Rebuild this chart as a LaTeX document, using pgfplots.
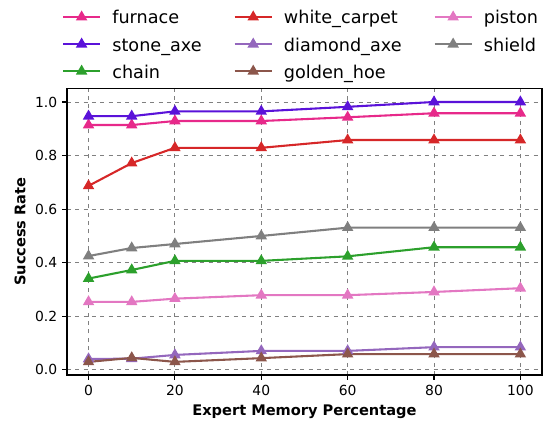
\documentclass[border=0pt]{standalone}
\usepackage{pgfplots}
\pgfplotsset{compat=1.18}
\usepackage{fontspec}
\setmainfont{DejaVu Sans}
\definecolor{cfurn}{HTML}{E7298A}
\definecolor{cstone}{HTML}{5A12D9}
\definecolor{cchain}{HTML}{2CA02C}
\definecolor{cwhite}{HTML}{D62728}
\definecolor{cdiam}{HTML}{9467BD}
\definecolor{cgold}{HTML}{8C564B}
\definecolor{cpist}{HTML}{E377C2}
\definecolor{cshield}{HTML}{7F7F7F}
\newcommand{\lf}{\fontsize{12.7}{12}\selectfont\rule[-4.6pt]{0pt}{16pt}}
\begin{document}
\begin{tikzpicture}
\begin{axis}[
  name=ax,
  scale only axis,
  width=342pt, height=206.6pt,
  xmin=-5, xmax=105, ymin=-0.019, ymax=1.052,
  xtick={0,20,40,60,80,100},
  ytick={0,0.2,0.4,0.6,0.8,1.0},
  yticklabel style={/pgf/number format/.cd,fixed,fixed zerofill,precision=1},
  /pgf/number format/assume math mode=true,
  ticklabel style={font=\fontsize{10}{12}\selectfont},
  tick align=outside,
  major tick length=3.5pt,
  xtick pos=bottom, ytick pos=left,
  tick style={black, line width=0.8pt},
  axis line style={line width=0.8pt},
  grid=major,
  grid style={dashed, gray, line width=0.7pt},
  xlabel={\fontsize{10.5}{12}\selectfont\textbf{Expert Memory Percentage}},
  ylabel={\fontsize{10.5}{12}\selectfont\textbf{Success Rate}},
  every axis plot/.append style={line width=1.5pt, mark=triangle*, mark size=3.3pt, mark options={solid}},
  legend columns=3,
  legend style={at={(0.4936,1.007)}, anchor=south, draw=none, fill=none,
    row sep=2.6pt,
    /tikz/every odd column/.append style={column sep=6pt},
    /tikz/every even column/.append style={column sep=21pt}},
  legend cell align=left,
  legend image code/.code={\draw[mark repeat=2,mark phase=2] plot coordinates {(0cm,0cm)(0.47cm,0cm)(0.94cm,0cm)};},
  legend transposed=true,
]
\addplot[cfurn] coordinates {(0,0.914)(10,0.914)(20,0.929)(40,0.929)(60,0.943)(80,0.958)(100,0.958)};
\addlegendentry{\lf furnace}
\addplot[cstone] coordinates {(0,0.947)(10,0.947)(20,0.965)(40,0.965)(60,0.982)(80,1.0)(100,1.0)};
\addlegendentry{\lf stone\_axe}
\addplot[cchain] coordinates {(0,0.341)(10,0.373)(20,0.407)(40,0.407)(60,0.424)(80,0.458)(100,0.458)};
\addlegendentry{\lf chain}
\addplot[cwhite] coordinates {(0,0.687)(10,0.772)(20,0.829)(40,0.829)(60,0.858)(80,0.858)(100,0.858)};
\addlegendentry{\lf white\_carpet}
\addplot[cdiam] coordinates {(0,0.041)(10,0.042)(20,0.056)(40,0.071)(60,0.071)(80,0.085)(100,0.085)};
\addlegendentry{\lf diamond\_axe}
\addplot[cgold] coordinates {(0,0.030)(10,0.045)(20,0.030)(40,0.044)(60,0.059)(80,0.059)(100,0.059)};
\addlegendentry{\lf golden\_hoe}
\addplot[cpist] coordinates {(0,0.254)(10,0.254)(20,0.266)(40,0.279)(60,0.279)(80,0.291)(100,0.305)};
\addlegendentry{\lf piston}
\addplot[cshield] coordinates {(0,0.425)(10,0.455)(20,0.470)(40,0.500)(60,0.531)(80,0.531)(100,0.531)};
\addlegendentry{\lf shield}
\end{axis}
\pgfresetboundingbox
\path[use as bounding box] ([shift={(-48.2pt,-33.1pt)}]ax.south west) rectangle ++(396.7pt,303.1pt);
\end{tikzpicture}
\end{document}
